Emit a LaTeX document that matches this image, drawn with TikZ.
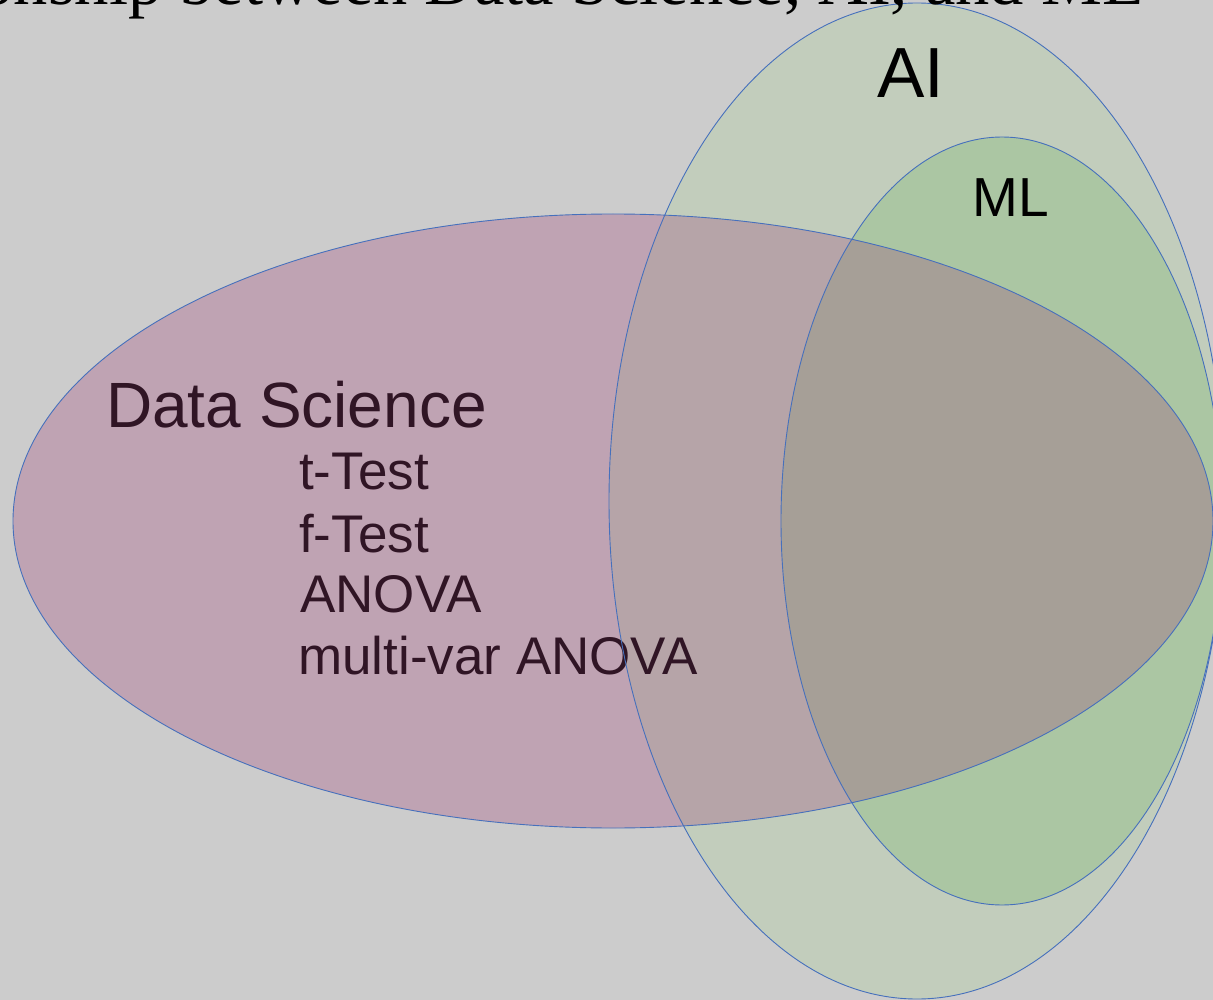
\documentclass[tikz,border=0pt]{standalone}
\usepackage{fontspec}
\setmainfont{Liberation Serif}
\newfontfamily\arialf{Liberation Sans}
\definecolor{bgc}{HTML}{CCCCCC}
\definecolor{dsc}{HTML}{BFA3B3}
\definecolor{aic}{HTML}{C2CDBC}
\definecolor{mlc}{HTML}{ABC6A3}
\definecolor{dsaic}{HTML}{B6A4A8}
\definecolor{dsmlc}{HTML}{A69F97}
\definecolor{txtc}{HTML}{301525}
\definecolor{edgec}{HTML}{4670BC}
\begin{document}
\begin{tikzpicture}[x=1pt,y=-1pt,
  outline/.style={draw=edgec,line width=0.9pt},
  lbl/.style={inner sep=0pt,anchor=base west,font=\arialf}]
\def\DSpath{(613,521) ellipse [x radius=600pt, y radius=307pt]}
\def\AIpath{(917,501) ellipse [x radius=308pt, y radius=498pt]}
\def\MLpath{(1002,521) ellipse [x radius=221pt, y radius=384pt]}
\fill[bgc] (0,0) rectangle (1213,1000);
\useasboundingbox (0,0) rectangle (1213,1000);
\fill[aic] \AIpath;
\fill[mlc] \MLpath;
\fill[dsc] \DSpath;
\begin{scope}
  \clip \DSpath;
  \fill[dsaic] \AIpath;
  \fill[dsmlc] \MLpath;
\end{scope}
\node[lbl,text=txtc,font=\arialf\fontsize{64}{64}\selectfont] (ds) at (106,427) {Data Science};
\node[lbl,text=txtc,font=\arialf\fontsize{53}{53}\selectfont] (tt) at (299,489) {t-Test};
\node[lbl,text=txtc,font=\arialf\fontsize{53}{53}\selectfont] (ft) at (299,552) {f-Test};
\node[lbl,text=txtc,font=\arialf\fontsize{53}{53}\selectfont] (an) at (300,612) {ANOVA};
\node[lbl,text=txtc,font=\arialf\fontsize{53}{53}\selectfont] (man) at (298,674) {multi-var ANOVA};
\draw[outline] \DSpath;
\draw[outline] \AIpath;
\draw[outline] \MLpath;
\node[lbl,text=black,font=\arialf\fontsize{71}{71}\selectfont] (ai) at (877,98) {AI};
\node[lbl,text=black,font=\arialf\fontsize{55}{55}\selectfont] (ml) at (972,217) {ML};
\node[inner sep=0pt,anchor=base east,text=black,font=\fontsize{68.5}{68.5}\selectfont] (title) at (1144,5) {Relationship between Data Science, AI, and ML};
\end{tikzpicture}
\end{document}
